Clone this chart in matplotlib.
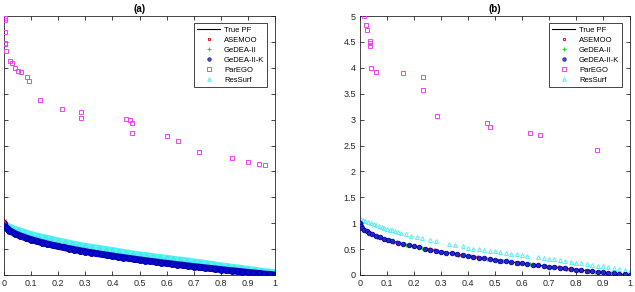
import numpy as np
import matplotlib.pyplot as plt
from matplotlib.lines import Line2D
from matplotlib.ticker import FormatStrFormatter

plt.rcParams['font.family'] = ['Liberation Sans', 'DejaVu Sans']

# ---- True Pareto front (shared by both panels) ----
pf_x = [0, .005, .01, .02, .04, .06, .08, .10, .12, .14, .16, .18, .20, .22, .24, .26, .28,
        .30, .32, .34, .36, .38, .40, .42, .44, .46, .48, .50, .52, .54, .56, .58, .60,
        .62, .64, .66, .68, .70, .72, .74, .76, .78, .80, .82, .84, .86, .88, .90, .92,
        .94, .96, .98, 1.0]
pf_y = [1.0, .929, .900, .859, .800, .755, .717, .684, .654, .626, .600, .576, .553, .531,
        .510, .490, .471, .452, .434, .417, .400, .384, .368, .352, .337, .322, .307, .293,
        .279, .265, .252, .238, .225, .213, .200, .188, .175, .163, .151, .140, .128, .117,
        .106, .094, .083, .073, .062, .051, .041, .030, .020, .010, 0.0]

# ---- panel (a) ----
a_asemoo_x = [0, .07, .15, .25, .37, .45, .55, .65, .75, .85, .95]
a_asemoo_y = [1.05, .735, .613, .50, .392, .329, .258, .194, .134, .078, .025]
a_gedea_x = [.05, .13, .23, .33, .43, .53, .63, .73, .83, .93]
a_gedea_y = [.776, .639, .520, .426, .344, .272, .206, .146, .089, .036]
a_gedeak_x = pf_x
a_gedeak_y = pf_y
a_parego_x = [.002, .002, .005, .005, .005, .006, .022, .031, .041, .053, .063, .086, .093,
              .133, .213, .284, .284, .452, .464, .472, .473, .603, .643, .721, .840, .900,
              .940, .964]
a_parego_y = [4.96, 4.93, 4.69, 4.48, 4.45, 4.32, 4.14, 4.09, 4.00, 3.94, 3.91, 3.82, 3.75,
              3.38, 3.21, 3.15, 3.04, 3.01, 2.99, 2.94, 2.75, 2.69, 2.58, 2.38, 2.26, 2.18,
              2.15, 2.13]
a_ressurf_x = [0, .01, .025, .05, .075, .1, .125, .15, .175, .2, .225, .25, .275, .3, .325,
               .35, .375, .4, .425, .45, .475, .5, .525, .55, .575, .6, .625, .65, .675, .7,
               .725, .75, .775, .8, .825, .85, .875, .9, .925, .95, .975, 1.0]
a_ressurf_y = [1.02, .97, .93, .88, .84, .80, .765, .735, .705, .675, .65, .62, .595, .57,
               .55, .53, .51, .49, .467, .445, .425, .405, .39, .37, .355, .34, .32, .305,
               .29, .27, .255, .235, .215, .195, .18, .16, .145, .125, .11, .09, .075, .06]

# ---- panel (b) ----
b_asemoo_x = [.07, .13, .25, .27, .37, .43, .52, .58, .65, .73, .77, .84, .91, .95]
b_asemoo_y = [.735, .639, .500, .480, .392, .344, .279, .238, .194, .146, .123, .083, .046, .025]
b_gedea_x = [.05, .11, .17, .23, .29, .35, .41, .47, .53, .59, .63, .69, .75, .81, .87, .93, .99]
b_gedea_y = [.776, .668, .588, .520, .461, .408, .360, .314, .272, .232, .206, .169, .134,
             .100, .067, .036, .005]
b_gedeak_x = [0, .003, .008, .015, .025, .035, .045, .06, .075, .09, .105, .12, .14, .16, .18,
              .20, .22, .24, .26, .28, .30, .32, .34, .36, .38, .40, .42, .44, .46, .48, .50,
              .52, .54, .56, .58, .60, .62, .64, .66, .68, .70, .72, .74, .76, .78, .80, .82,
              .84, .86, .88, .90, .92, .94, .96, .98, 1.0]
b_gedeak_y = [1.0, .945, .911, .878, .842, .813, .788, .755, .726, .700, .676, .654, .626,
              .600, .576, .553, .531, .510, .490, .471, .452, .434, .417, .400, .384, .368,
              .352, .337, .322, .307, .293, .279, .265, .252, .238, .225, .213, .200, .188,
              .175, .163, .151, .140, .128, .117, .106, .094, .083, .073, .062, .051, .041,
              .030, .020, .010, 0.0]
b_parego_x = [.016, .021, .027, .037, .037, .037, .040, .060, .160, .232, .235, .286, .470,
              .483, .631, .667, .879]
b_parego_y = [5.0, 4.82, 4.73, 4.51, 4.47, 4.43, 4.00, 3.92, 3.90, 3.83, 3.58, 3.06, 2.94,
              2.85, 2.75, 2.70, 2.41]
b_ressurf_x = [0, .01, .02, .03, .04, .05, .06, .07, .08, .09, .10, .11, .12, .13, .14, .15,
               .17, .19, .21, .23, .26, .28, .33, .35, .38, .40, .42, .44, .46, .48, .50, .52,
               .54, .56, .58, .60, .62, .66, .68, .70, .72, .74, .76, .78, .80, .82, .84, .86,
               .88, .90, .92, .94, .96, .98, 1.0]
b_ressurf_y = [1.10, 1.07, 1.05, 1.03, 1.01, .99, .97, .95, .93, .91, .89, .87, .86, .84,
               .83, .81, .79, .76, .73, .71, .67, .65, .60, .58, .56, .53, .51, .50, .49,
               .47, .46, .44, .43, .41, .40, .38, .37, .34, .33, .31, .30, .29, .27, .26,
               .24, .23, .21, .20, .18, .17, .15, .13, .12, .10, .08]

BLUE = '#0808d0'
CYAN = '#55f0f0'
RED = '#e8201c'
GREEN = '#22dd22'
MAGENTA = '#f040f0'

LABELS = ['True PF', 'ASEMOO', 'GeDEA-II', 'GeDEA-II-K', 'ParEGO', 'ResSurf']


def legend_handles():
    return [Line2D([], [], color='k', lw=0.8),
            Line2D([], [], ls='none', marker='s', mfc='none', mec=RED, ms=2, mew=0.8),
            Line2D([], [], ls='none', marker='+', mfc=GREEN, mec=GREEN, ms=2.5, mew=0.8),
            Line2D([], [], ls='none', marker='o', mfc='#5050d0', mec='#2020a8', ms=2.5, mew=0.6),
            Line2D([], [], ls='none', marker='s', mfc='none', mec=MAGENTA, ms=2.5, mew=0.7),
            Line2D([], [], ls='none', marker='^', mfc='none', mec=CYAN, ms=2.5, mew=0.7)]


def draw_panel(ax, title, asemoo, gedea, gedeak, parego, ressurf, dense):
    ax.plot(pf_x, pf_y, '-', color='k', lw=0.8, zorder=1)
    ax.plot(*gedea, ls='none', marker='+', mec=GREEN, ms=3, mew=0.8, zorder=2)
    if dense:
        # the many overlapping markers of panel (a) form solid bands
        ax.plot(*gedeak, '-', color=BLUE, lw=5.0, solid_capstyle='round', zorder=3)
        ax.plot(*gedeak, ls='none', marker='o', mfc=BLUE, mec='#0000a0', ms=4, mew=0.6, zorder=3)
        ax.plot(*ressurf, '-', color=CYAN, lw=3.8, solid_capstyle='round', zorder=2)
        ax.plot(*ressurf, ls='none', marker='^', mfc='none', mec='#40e8e8', ms=3, mew=0.7, zorder=2)
    else:
        ax.plot(*gedeak, ls='none', marker='o', mfc='#2828c0', mec='#0000a8', ms=3.3, mew=0.6,
                zorder=3)
        ax.plot(*ressurf, ls='none', marker='^', mfc='none', mec=CYAN, ms=2.8, mew=0.7, zorder=2)
    ax.plot(*asemoo, ls='none', marker='x', mec=RED, ms=2.5, mew=0.8, zorder=4 if dense else 2.5)
    ax.plot(*parego, ls='none', marker='s', mfc='none', mec=MAGENTA, ms=2.8, mew=0.7, zorder=3)
    if dense:
        # bring the lower blue band back over the red marks except the top one
        ax.plot(gedeak[0][2:], gedeak[1][2:], ls='none', marker='o', mfc=BLUE, mec='#0000a0',
                ms=4, mew=0.6, zorder=5)

    ax.set_xlim(0, 1)
    ax.set_ylim(0, 5)
    ax.set_xticks(np.arange(0, 1.01, 0.1))
    ax.set_yticks(np.arange(0, 5.01, 0.5))
    ax.xaxis.set_major_formatter(FormatStrFormatter('%g'))
    ax.yaxis.set_major_formatter(FormatStrFormatter('%g'))
    ax.tick_params(direction='in', length=3, width=0.6, labelsize=6.5, colors='#262626',
                   top=True, right=True, pad=3)
    for sp in ax.spines.values():
        sp.set_color('#262626')
        sp.set_linewidth(0.6)
    ax.set_title(title, fontsize=7, fontweight='bold', pad=3)
    leg = ax.legend(legend_handles(), LABELS, loc='upper right', bbox_to_anchor=(0.972, 0.972),
                    fontsize=5.5, handlelength=3.0, handletextpad=0.5, borderpad=0.4,
                    labelspacing=0.35, fancybox=False, framealpha=1, edgecolor='#262626',
                    borderaxespad=0)
    leg.get_frame().set_linewidth(0.6)
    leg.set_zorder(10)


fig = plt.figure(figsize=(6.35, 2.92), dpi=100)
ax_a = fig.add_axes([4 / 635, 17 / 292, 271 / 635, 259 / 292])
ax_b = fig.add_axes([360 / 635, 17 / 292, 270 / 635, 259 / 292])

draw_panel(ax_a, '(a)', (a_asemoo_x, a_asemoo_y), (a_gedea_x, a_gedea_y),
           (a_gedeak_x, a_gedeak_y), (a_parego_x, a_parego_y),
           (a_ressurf_x, a_ressurf_y), dense=True)
draw_panel(ax_b, '(b)', (b_asemoo_x, b_asemoo_y), (b_gedea_x, b_gedea_y),
           (b_gedeak_x, b_gedeak_y), (b_parego_x, b_parego_y),
           (b_ressurf_x, b_ressurf_y), dense=False)

fig.savefig('out.png', dpi=100)
